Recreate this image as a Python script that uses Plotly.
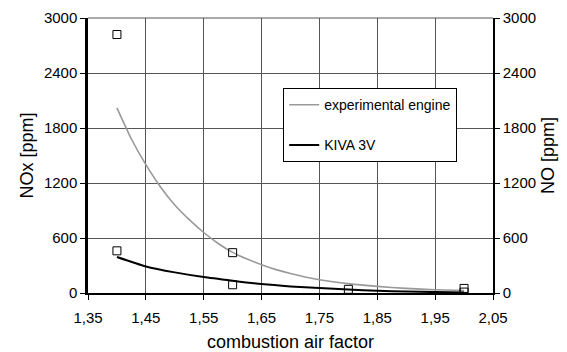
import plotly.graph_objects as go

# Data
air_factor_curve = [1.40, 1.425, 1.45, 1.475, 1.50, 1.525, 1.55, 1.575, 1.60, 1.625, 1.65, 1.675,
                    1.70, 1.725, 1.75, 1.80, 1.85, 1.90, 1.95, 2.00]
experimental_engine = [2020, 1680, 1400, 1160, 960, 800, 660, 540, 443, 370, 308, 255,
                       212, 175, 145, 102, 72, 50, 36, 28]
kiva_x = [1.40, 1.45, 1.50, 1.55, 1.60, 1.65, 1.70, 1.75, 1.80, 1.85, 1.90, 1.95, 2.00]
kiva_3v = [393, 290, 225, 174, 134, 97, 72, 54, 38, 25, 16, 10, 6]
meas_nox_x = [1.4, 1.6, 1.8, 2.0]
meas_nox = [2820, 440, 40, 50]
meas_no_x = [1.4, 1.6, 2.0]
meas_no = [460, 90, 10]
x_ticks = [1.35, 1.45, 1.55, 1.65, 1.75, 1.85, 1.95, 2.05]
x_tick_labels = ["1,35", "1,45", "1,55", "1,65", "1,75", "1,85", "1,95", "2,05"]
y_ticks = [0, 600, 1200, 1800, 2400, 3000]

font = dict(family="Arial, Liberation Sans, sans-serif", size=15, color="black")

fig = go.Figure()
fig.add_trace(go.Scatter(x=air_factor_curve, y=experimental_engine, mode="lines",
                         line=dict(color="#999999", width=1.6, shape="spline", smoothing=0.6),
                         name="experimental engine", legendgroup="a"))
fig.add_trace(go.Scatter(x=kiva_x, y=kiva_3v, mode="lines",
                         line=dict(color="black", width=2, shape="spline", smoothing=0.6),
                         name="KIVA 3V", legendgroup="b"))
fig.add_trace(go.Scatter(x=meas_nox_x, y=meas_nox, mode="markers",
                         marker=dict(symbol="square-open", size=8, color="black", line=dict(width=1)),
                         showlegend=False))
fig.add_trace(go.Scatter(x=meas_no_x, y=meas_no, mode="markers", yaxis="y2",
                         marker=dict(symbol="square-open", size=8, color="black", line=dict(width=1)),
                         showlegend=False))

fig.update_layout(
    width=567, height=352,
    margin=dict(l=88, r=74, t=18, b=59),
    paper_bgcolor="white", plot_bgcolor="white",
    font=font,
    showlegend=True,
    legend=dict(x=0.482, y=0.745, xanchor="left", yanchor="top",
                bgcolor="white", bordercolor="black", borderwidth=1,
                font=dict(family="Arial, Liberation Sans, sans-serif", size=14),
                tracegroupgap=19, traceorder="grouped", itemwidth=30),
    xaxis=dict(range=[1.35, 2.05], tickvals=x_ticks, ticktext=x_tick_labels,
               showgrid=True, gridcolor="#555555", gridwidth=1,
               showline=True, linecolor="black", linewidth=1.5,
               ticks="outside", ticklen=5, tickcolor="black", ticklabelstandoff=5,
               title=dict(text="combustion air factor", standoff=12),
               zeroline=False, mirror=False, automargin=False),
    yaxis=dict(range=[0, 3000], tickvals=y_ticks,
               showgrid=True, gridcolor="#555555", gridwidth=1,
               showline=True, linecolor="black", linewidth=2.5,
               ticks="outside", ticklen=5, tickcolor="black",
               title=dict(text="NOx [ppm]", standoff=6),
               zeroline=False, automargin=False),
    yaxis2=dict(range=[0, 3000], tickvals=y_ticks, overlaying="y", side="right",
                showgrid=False, showline=True, linecolor="black", linewidth=1.5,
                ticks="outside", ticklen=5, tickcolor="black",
                title=dict(text="NO [ppm]", standoff=6),
                zeroline=False, automargin=False),
)
fig.add_shape(type="line", xref="paper", yref="paper", x0=0, x1=1, y0=1, y1=1,
              line=dict(color="#555555", width=1))

fig.write_html("out.html")
